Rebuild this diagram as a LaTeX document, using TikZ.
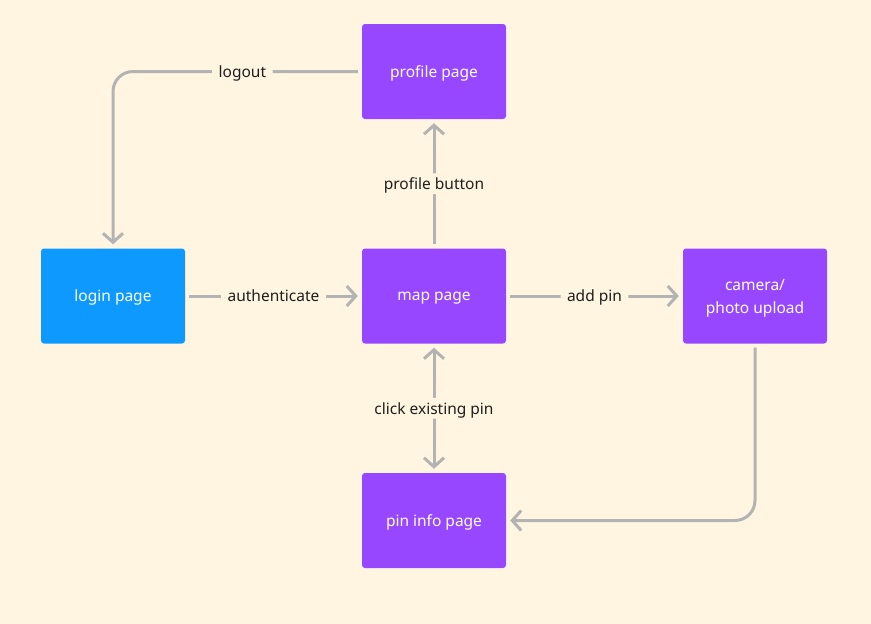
\documentclass[tikz,border=0pt]{standalone}
\usepackage{fontspec}
\setmainfont{Noto Sans}
\usetikzlibrary{arrows.meta}
\definecolor{bg}{HTML}{FFF5E0}
\definecolor{purp}{HTML}{9747FF}
\definecolor{blu}{HTML}{0D99FF}
\definecolor{ln}{HTML}{B3B3B3}
\definecolor{txt}{HTML}{1E1E1E}
\tikzset{
  box/.style={rectangle, rounded corners=3pt, minimum width=144pt, minimum height=95pt, text=white, font=\fontsize{15.5pt}{23pt}\selectfont, align=center, inner sep=0pt, text depth=0pt},
  pbox/.style={box, fill=purp},
  bbox/.style={box, fill=blu},
  tip/.style={Straight Barb[length=9pt,width=20pt,line width=3pt]},
  conn/.style={draw=ln, line width=3pt, -{Straight Barb[length=9pt,width=20pt,line width=3pt]}, rounded corners=20pt, shorten <=4pt, shorten >=4pt},
  lab/.style={fill=bg, draw=bg, line width=1pt, text=txt, font=\fontsize{15.5pt}{18pt}\selectfont, inner xsep=6pt, inner ysep=4pt, text depth=0pt}
}
\begin{document}
\begin{tikzpicture}[x=1pt,y=-1pt]
\fill[bg] (0,0) rectangle (871,624);
\useasboundingbox (0,0) rectangle (871,624);
\node[pbox] (profile) at (434,71.5) {profile page};
\node[bbox] (login) at (113,296) {login page};
\node[pbox] (map) at (434,296) {map page};
\node[pbox] (camera) at (755,296) {camera/\\photo upload};
\node[pbox] (pin) at (434,520.5) {pin info page};
\coordinate (c1) at (113,71.5);
\coordinate (c2) at (755,520.5);
\draw[conn] (profile.west) -- node[lab, pos=0.48]{logout} (c1) -- (login.north);
\draw[conn] (map.north) -- node[lab]{profile button} (profile.south);
\draw[conn] (login.east) -- node[lab]{authenticate} (map.west);
\draw[conn] (map.east) -- node[lab]{add pin} (camera.west);
\draw[conn, {Straight Barb[length=9pt,width=20pt,line width=3pt]}-{Straight Barb[length=9pt,width=20pt,line width=3pt]}] (map.south) -- node[lab]{click existing pin} (pin.north);
\draw[conn] (camera.south) -- (c2) -- (pin.east);
\end{tikzpicture}
\end{document}
